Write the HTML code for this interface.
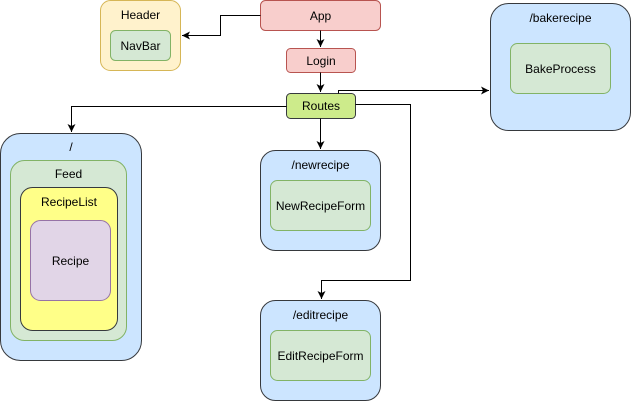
<!DOCTYPE html>
<html><head><meta charset="utf-8"><style>
html,body{margin:0;padding:0;background:#fff;}
svg{display:block;}
text{font-family:"Liberation Sans",sans-serif;font-size:12px;fill:#000;text-anchor:middle;}
</style></head><body>
<svg width="632" height="401" viewBox="0 0 632 401" xmlns="http://www.w3.org/2000/svg">
<defs>
<marker id="a" markerWidth="10" markerHeight="10" refX="8" refY="4" orient="auto" markerUnits="userSpaceOnUse">
<path d="M0,0 L8,4 L0,8 L2,4 z" fill="#000"/>
</marker>
</defs>
<!-- Header -->
<rect x="100.5" y="0.5" width="80" height="70" rx="10" fill="#fff2cc" stroke="#d6b656"/>
<text x="140.5" y="19">Header</text>
<rect x="110.5" y="30.5" width="60" height="30" rx="5" fill="#d5e8d4" stroke="#82b366"/>
<text x="140.5" y="50">NavBar</text>
<!-- App -->
<rect x="260.5" y="0.5" width="120" height="30" rx="5" fill="#f8cecc" stroke="#b85450"/>
<text x="320.5" y="20">App</text>
<rect x="286.5" y="48.5" width="69" height="24" rx="4" fill="#f8cecc" stroke="#b85450"/>
<text x="321" y="65">Login</text>
<rect x="286.5" y="93.5" width="69" height="25" rx="4" fill="#cdeb8b" stroke="#36393d"/>
<text x="321" y="110">Routes</text>
<!-- connectors -->
<g fill="none" stroke="#000" stroke-width="1">
<path d="M260.5,15.5 H220.5 V35.5 H182" marker-end="url(#a)"/>
<path d="M320.5,30.5 V47" marker-end="url(#a)"/>
<path d="M320.5,72.5 V92" marker-end="url(#a)"/>
<path d="M286.5,106.5 H71.5 V132" marker-end="url(#a)"/>
<path d="M320.5,118.5 V149" marker-end="url(#a)"/>
<path d="M338.5,93.5 V90.5 H489" marker-end="url(#a)"/>
<path d="M355.5,104.5 H410.5 V280.5 H321.5 V299" marker-end="url(#a)"/>
</g>
<!-- / -->
<rect x="0.5" y="133.5" width="141" height="227" rx="20" fill="#cce5ff" stroke="#36393d"/>
<text x="71" y="151">/</text>
<rect x="10.5" y="160.5" width="116" height="180" rx="14" fill="#d5e8d4" stroke="#82b366"/>
<text x="68.5" y="178">Feed</text>
<rect x="20.5" y="187.5" width="97" height="143" rx="12" fill="#ffff88" stroke="#36393d"/>
<text x="69" y="206">RecipeList</text>
<rect x="30.5" y="220.5" width="80" height="80" rx="10" fill="#e1d5e7" stroke="#9673a6"/>
<text x="70.5" y="265">Recipe</text>
<!-- /newrecipe -->
<rect x="260.5" y="150.5" width="120" height="100" rx="15" fill="#cce5ff" stroke="#36393d"/>
<text x="320.5" y="169">/newrecipe</text>
<rect x="270.5" y="180.5" width="100" height="50" rx="7" fill="#d5e8d4" stroke="#82b366"/>
<text x="320.5" y="210">NewRecipeForm</text>
<!-- /editrecipe -->
<rect x="260.5" y="300.5" width="120" height="100" rx="15" fill="#cce5ff" stroke="#36393d"/>
<text x="320.5" y="319">/editrecipe</text>
<rect x="270.5" y="330.5" width="100" height="50" rx="7" fill="#d5e8d4" stroke="#82b366"/>
<text x="320.5" y="360">EditRecipeForm</text>
<!-- /bakerecipe -->
<rect x="490.5" y="3.5" width="140" height="127" rx="18" fill="#cce5ff" stroke="#36393d"/>
<text x="560.5" y="22">/bakerecipe</text>
<rect x="510.5" y="43.5" width="100" height="50" rx="7" fill="#d5e8d4" stroke="#82b366"/>
<text x="560.5" y="73">BakeProcess</text>
</svg>
</body></html>
